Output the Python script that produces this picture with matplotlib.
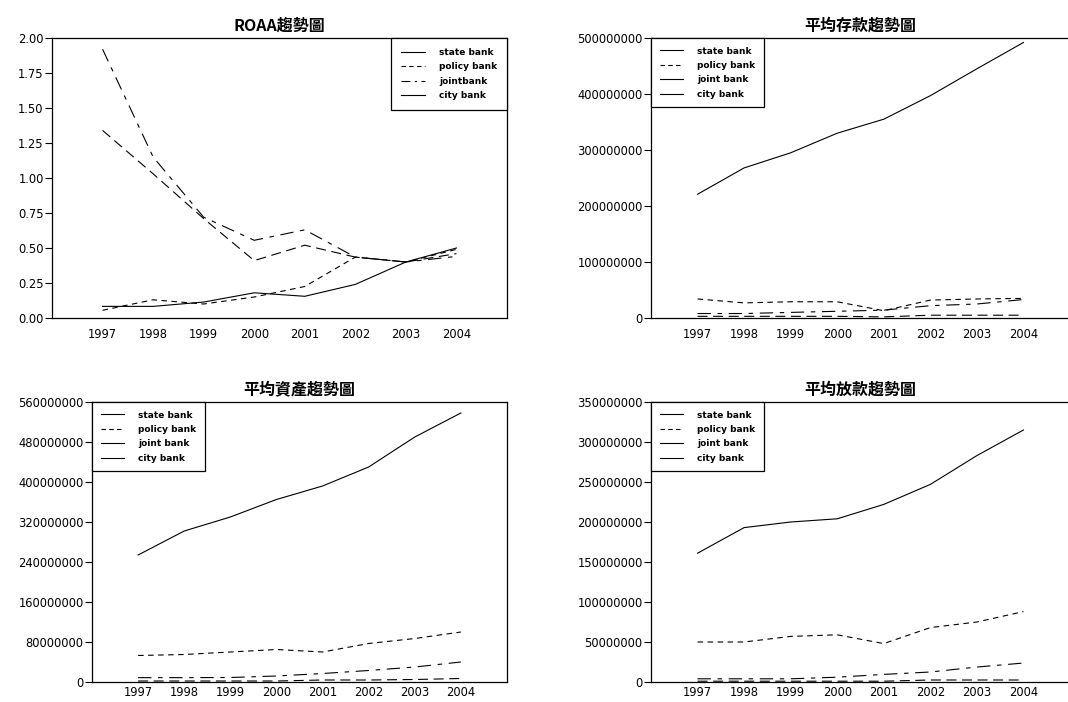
import matplotlib
matplotlib.use("Agg")
import matplotlib.pyplot as plt
from matplotlib.lines import Line2D
from matplotlib.ticker import FormatStrFormatter, FixedLocator

plt.rcParams['font.family'] = ['DejaVu Sans']

years = [1997, 1998, 1999, 2000, 2001, 2002, 2003, 2004]

# ROAA
roaa_state = [0.083, 0.083, 0.114, 0.18, 0.155, 0.24, 0.40, 0.50]
roaa_policy = [0.055, 0.13, 0.10, 0.15, 0.225, 0.435, 0.40, 0.49]
roaa_joint = [1.92, 1.15, 0.72, 0.555, 0.63, 0.435, 0.40, 0.44]
roaa_city = [1.34, 1.03, 0.71, 0.41, 0.52, 0.435, 0.40, 0.46]

# 平均存款
dep_state = [221e6, 268e6, 295e6, 330e6, 355e6, 397e6, 445e6, 492e6]
dep_policy = [34e6, 27e6, 29e6, 29e6, 13e6, 32e6, 34e6, 35e6]
dep_joint = [8e6, 8e6, 10e6, 12e6, 14e6, 22e6, 25e6, 33e6]
dep_city = [3e6, 3e6, 3e6, 3e6, 2e6, 5e6, 5e6, 5e6]

# 平均資產
ast_state = [254e6, 302e6, 330e6, 365e6, 392e6, 430e6, 490e6, 538e6]
ast_policy = [53e6, 55e6, 60e6, 65e6, 60e6, 77e6, 87e6, 100e6]
ast_joint = [8.7e6, 8.7e6, 9e6, 12e6, 17e6, 23e6, 30e6, 40e6]
ast_city = [2e6, 2e6, 2e6, 2e6, 4e6, 4e6, 5e6, 7e6]

# 平均放款
loan_state = [161e6, 193e6, 200e6, 204e6, 222e6, 247e6, 283e6, 315e6]
loan_policy = [50e6, 50e6, 57e6, 59e6, 48e6, 68e6, 75e6, 88e6]
loan_joint = [4e6, 4e6, 4e6, 6e6, 9.5e6, 12.5e6, 18.7e6, 23.7e6]
loan_city = [1e6, 1e6, 1e6, 1e6, 1e6, 2.5e6, 2.5e6, 2.5e6]

titles = ['ROAA趨勢圖', '平均存款趨勢圖', '平均資產趨勢圖', '平均放款趨勢圖']
labels1 = ['state bank', 'policy bank', 'jointbank', 'city bank']
labels = ['state bank', 'policy bank', 'joint bank', 'city bank']

W, H = 1068, 702
fig = plt.figure(figsize=(W / 100, H / 100), dpi=100)


def box(x0, y0, x1, y1):
    return [x0 / W, 1 - y1 / H, (x1 - x0) / W, (y1 - y0) / H]


styles = [
    dict(ls='-'),
    dict(ls=(0, (5, 4))),
    dict(ls=(0, (12, 6, 4, 6))),
    dict(ls=(0, (9, 5))),
]


def panel(rect, title, series, ylim, yticks, fmt, labs, loc, joint_leg, bpad, xpad):
    ax = fig.add_axes(rect)
    for s, st in zip(series, styles):
        ax.plot(years, s, color='black', lw=0.8, **st)
    ax.set_xlim(1996, 2005)
    ax.set_ylim(*ylim)
    ax.set_xticks(years)
    ax.yaxis.set_major_locator(FixedLocator(yticks))
    ax.yaxis.set_major_formatter(FormatStrFormatter(fmt))
    ax.tick_params(axis='x', length=0, pad=xpad, labelsize=8.3)
    ax.tick_params(axis='y', length=5, width=0.8, pad=1, labelsize=8.3)
    for sp in ax.spines.values():
        sp.set_linewidth(0.9)
    ax.set_title(title, fontsize=11.5, fontweight='bold', pad=5,
                 family=['Noto Sans CJK TC', 'DejaVu Sans'])
    handles = [
        Line2D([], [], color='black', lw=0.8, ls='-'),
        Line2D([], [], color='black', lw=0.8, ls=(0, (4, 3))),
        Line2D([], [], color='black', lw=0.8, ls=joint_leg),
        Line2D([], [], color='black', lw=0.8, ls='-'),
    ]
    leg = ax.legend(handles, labs, loc=loc, fancybox=False, borderaxespad=0,
                    prop=dict(family=['Liberation Sans Narrow', 'DejaVu Sans'],
                              size=6.5, weight='bold'),
                    handlelength=2.6, handletextpad=1.6, labelspacing=0.6,
                    borderpad=bpad, framealpha=1)
    leg.get_frame().set_edgecolor('black')
    leg.get_frame().set_linewidth(0.9)
    return ax


panel(box(52, 38, 507, 318), titles[0],
      [roaa_state, roaa_policy, roaa_joint, roaa_city],
      (0, 2.0), [0, 0.25, 0.5, 0.75, 1.0, 1.25, 1.5, 1.75, 2.0], '%.2f',
      labels1, 'upper right', (0, (8, 4, 2, 4)), 1.1, 7)

panel(box(651, 38, 1070, 318), titles[1],
      [dep_state, dep_policy, dep_joint, dep_city],
      (0, 500e6), [0, 100e6, 200e6, 300e6, 400e6, 500e6], '%d',
      labels, 'upper left', '-', 0.95, 7)

panel(box(92, 402, 507, 682), titles[2],
      [ast_state, ast_policy, ast_joint, ast_city],
      (0, 560e6), [0, 80e6, 160e6, 240e6, 320e6, 400e6, 480e6, 560e6], '%d',
      labels, 'upper left', '-', 0.95, 3)

panel(box(651, 402, 1070, 682), titles[3],
      [loan_state, loan_policy, loan_joint, loan_city],
      (0, 350e6), [0, 50e6, 100e6, 150e6, 200e6, 250e6, 300e6, 350e6], '%d',
      labels, 'upper left', '-', 0.95, 3)

fig.savefig('out.png', dpi=100)
